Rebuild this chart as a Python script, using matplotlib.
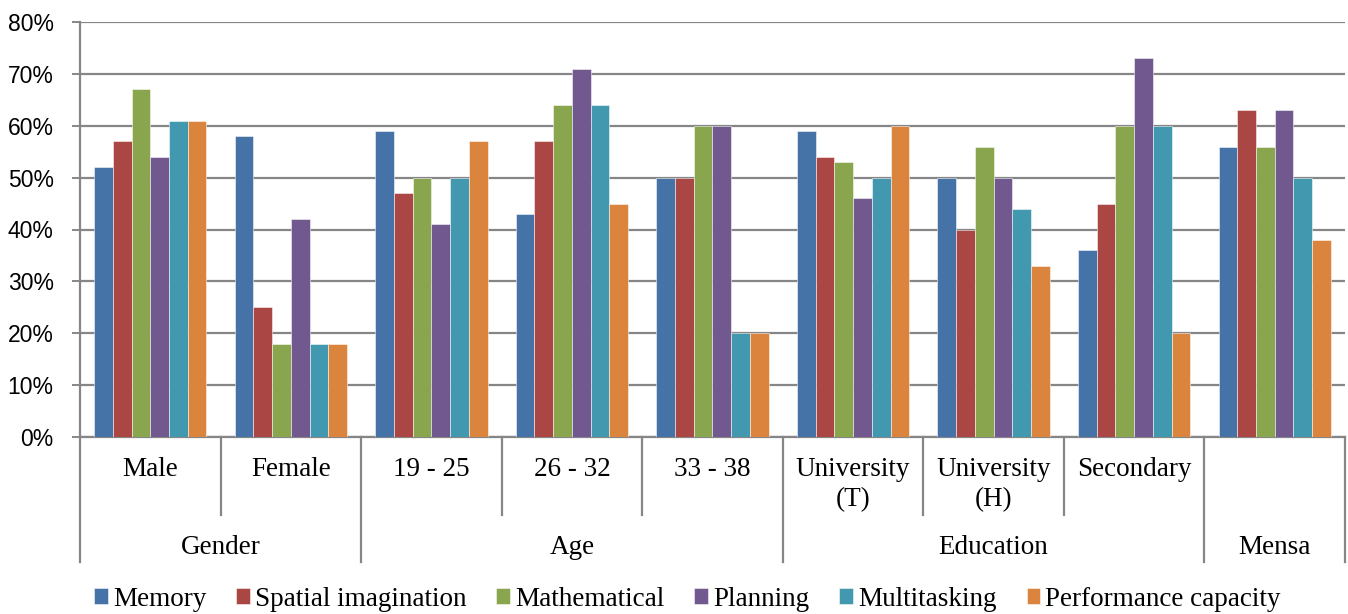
import numpy as np
import matplotlib.pyplot as plt
from matplotlib.ticker import FuncFormatter

# Data
categories = ["Male", "Female", "19 - 25", "26 - 32", "33 - 38",
              "University\n(T)", "University\n(H)", "Secondary", ""]
groups = ["Gender", "Age", "Education", "Mensa"]
group_sizes = [2, 3, 3, 1]

series_names = ["Memory", "Spatial imagination", "Mathematical",
                "Planning", "Multitasking", "Performance capacity"]
memory = [52, 58, 59, 43, 50, 59, 50, 36, 56]
spatial = [57, 25, 47, 57, 50, 54, 40, 45, 63]
mathematical = [67, 18, 50, 64, 60, 53, 56, 60, 56]
planning = [54, 42, 41, 71, 60, 46, 50, 73, 63]
multitasking = [61, 18, 50, 64, 20, 50, 44, 60, 50]
performance = [61, 18, 57, 45, 20, 60, 33, 20, 38]

colors = ["#4572A7", "#AA4643", "#89A54E", "#71588F", "#4198AF", "#DB843D"]


def main():
    values = [memory, spatial, mathematical, planning, multitasking, performance]
    n_cat = len(categories)
    x = np.arange(n_cat)
    width = 0.8 / len(values)

    fig = plt.figure(figsize=(13.48, 6.14), dpi=100)
    ax = fig.add_axes([80 / 1348, (614 - 437) / 614, 1265 / 1348, 415 / 614])

    for i, (name, vals) in enumerate(zip(series_names, values)):
        offset = (i - (len(values) - 1) / 2) * width
        ax.bar(x + offset, np.array(vals) / 100, width, color=colors[i],
               label=name, edgecolor=(1, 1, 1, 0.6), linewidth=0.6, zorder=3)

    ax.set_xlim(-0.5, n_cat - 0.5)
    ax.set_ylim(0, 0.8)
    ax.set_yticks(np.arange(0, 0.81, 0.1))
    ax.yaxis.set_major_formatter(FuncFormatter(lambda v, p: f"{v * 100:.0f}%"))
    ax.yaxis.grid(True, color="#868686", linewidth=1.6, zorder=0)
    ax.set_xticks([])
    for lab in ax.get_yticklabels():
        lab.set_fontfamily("Liberation Sans")
        lab.set_fontsize(16.5)
    ax.tick_params(axis="y", length=6, width=1.4, color="#868686", pad=13)

    for side in ["top", "right"]:
        ax.spines[side].set_visible(False)
    for side in ["left", "bottom"]:
        ax.spines[side].set_color("#868686")
        ax.spines[side].set_linewidth(1.6)

    # two-level category axis below the plot
    trans = ax.get_xaxis_transform()
    line_kw = dict(color="#868686", linewidth=1.6, clip_on=False, transform=trans)
    cat_bottom = (437 - 515) / 415
    grp_bottom = (437 - 562) / 415

    bounds = np.cumsum([0] + group_sizes) - 0.5
    for b in bounds:
        ax.plot([b, b], [0, grp_bottom], **line_kw)
    for b in np.arange(n_cat + 1) - 0.5:
        if b not in bounds:
            ax.plot([b, b], [0, cat_bottom], **line_kw)

    for xi, name in zip(x, categories):
        ax.text(xi, (437 - 457) / 415, name, transform=trans, ha="center",
                va="top", fontsize=19.5, family="Liberation Serif", linespacing=1.28)

    for g, name in enumerate(groups):
        mid = (bounds[g] + bounds[g + 1]) / 2
        ax.text(mid, (437 - 547) / 415, name, transform=trans, ha="center",
                va="center", fontsize=19.5, family="Liberation Serif")

    fig.legend(loc="center", bbox_to_anchor=(0.51, 0.024), ncol=6,
               frameon=False, handlelength=0.5, handleheight=0.5,
               handletextpad=0.2, columnspacing=1.1, borderpad=0,
               prop={"family": "Liberation Serif", "size": 19.5})

    fig.savefig("out.png", dpi=100)


if __name__ == "__main__":
    main()
